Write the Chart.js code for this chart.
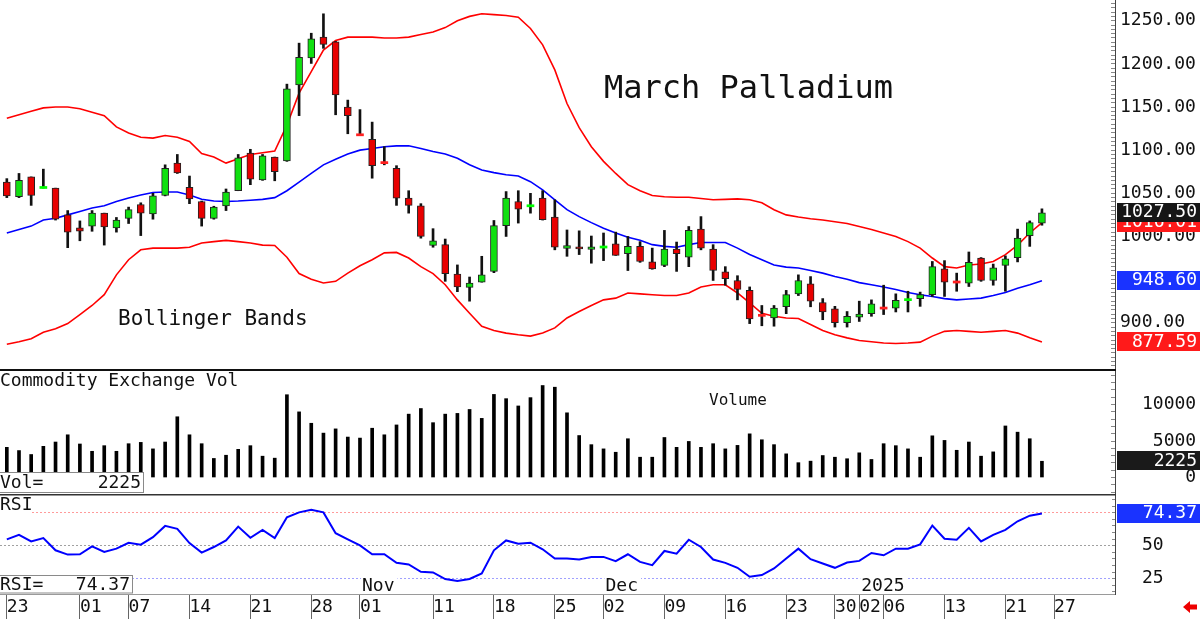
<!DOCTYPE html>
<html>
<head>
<meta charset="utf-8">
<title>March Palladium</title>
<script src="https://cdn.jsdelivr.net/npm/chart.js@4.4.1/dist/chart.umd.min.js"></script>
<style>
  html, body { margin: 0; padding: 0; background: #fff; }
  #wrap { position: relative; width: 1200px; height: 619px; overflow: hidden; }
  .pane { position: absolute; left: 0; width: 1200px; }
  canvas { display: block; }
</style>
</head>
<body>
<div id="wrap">
  <div class="pane" style="top:0;height:369px"><canvas id="price" width="1200" height="369"></canvas></div>
  <div class="pane" style="top:369px;height:125px"><canvas id="vol" width="1200" height="125"></canvas></div>
  <div class="pane" style="top:494px;height:125px"><canvas id="rsi" width="1200" height="125"></canvas></div>
</div>
<script>
// ---------------------------------------------------------------------------
// Data (one entry per trading day, Sep 23 2024 .. Jan 24 2025)
// ---------------------------------------------------------------------------

const dateTicks  = [0, 6, 10, 15, 20, 25, 29, 35, 40, 45, 49, 54, 59, 64, 68, 70, 72, 77, 82, 86];
const dateLabels = ["23", "01", "07", "14", "21", "28", "01", "11", "18", "25",
                    "02", "09", "16", "23", "30", "02", "06", "13", "21", "27"];
const monthTicks  = [29, 49, 70];
const monthLabels = ["Nov", "Dec", "2025"];

const opens = [1063, 1046, 1069, 1056.5, 1056, 1025, 1010, 1012, 1027, 1010,
  1021, 1037, 1026, 1047.5, 1085, 1057, 1040.5, 1021, 1035.5, 1053,
  1096.5, 1065.5, 1092, 1087.5, 1175.5, 1207, 1231, 1225.5, 1150, 1118,
  1112.5, 1085.8, 1079, 1044.5, 1035.5, 989.5, 990.5, 956.5, 941, 947,
  959.5, 1012.5, 1040.5, 1035.3, 1044.5, 1022.5, 986, 988, 985, 987.5,
  991.5, 980, 988.5, 970.5, 966.5, 985.5, 976, 1008.5, 985.5, 959,
  949, 937.5, 908.8, 905.5, 918.5, 933.5, 945, 923.5, 916, 900,
  906.5, 910.5, 917.2, 917, 926.5, 928, 932.5, 962.5, 947.4, 946,
  975, 949, 966.5, 975.5, 1001, 1015.5];
const highs = [1067, 1073, 1069, 1078, 1056, 1030, 1018, 1030, 1027, 1022,
  1034, 1039, 1050, 1083, 1095, 1070, 1041, 1035, 1055, 1095,
  1101, 1095, 1092, 1176.5, 1224, 1235.5, 1258, 1226, 1158, 1147,
  1132.5, 1104, 1082, 1053, 1038, 1009, 997, 967, 953, 977,
  1018.5, 1052, 1053, 1050, 1053, 1042.5, 1007.5, 1006.5, 1000.5, 1004,
  1005, 1000, 994, 986.5, 1007, 993.5, 1011.5, 1023, 990.5, 965,
  954.5, 941.5, 920, 920, 937.5, 955.5, 953.5, 928, 919, 913,
  925, 926.5, 943.5, 933.5, 936.5, 935.5, 971, 972, 957.5, 982,
  975.5, 968, 977.5, 1008.5, 1018, 1032];
const lows = [1045, 1045, 1036, 1056, 1019, 987, 995, 1006, 990, 1005,
  1015, 1001, 1020, 1047, 1073, 1038, 1012, 1020, 1030, 1053,
  1060, 1065, 1064.5, 1087, 1140, 1200.5, 1218, 1141, 1119, 1117.5,
  1067.5, 1083, 1036, 1027, 998, 987.5, 948, 936, 925, 947,
  958, 1000, 1015.5, 1027, 1019, 984.5, 977, 979, 969, 972,
  978, 960.5, 970, 962, 965, 959.5, 965, 984.5, 949, 943.5,
  926.5, 899, 896.5, 896, 910.5, 931.5, 918.5, 903.5, 895, 895,
  901.5, 907.5, 909.5, 912.5, 912.5, 919, 930.5, 930.5, 936.5, 942,
  948, 943.5, 936.5, 970.5, 988.5, 1013];
const closes = [1047, 1065, 1047.5, 1057, 1020, 1005, 1006, 1027, 1011, 1019,
  1031, 1027, 1047, 1079, 1073.5, 1043.5, 1021, 1034, 1051.5, 1091,
  1066.5, 1093.5, 1075, 1171, 1207.5, 1229, 1222.5, 1164, 1140, 1117.6,
  1082, 1085.3, 1044.5, 1036, 1000, 995, 957, 941.5, 946, 955.5,
  1012.5, 1044.5, 1031.5, 1035.8, 1019.5, 987.5, 989.5, 985.5, 988, 988,
  978, 988.5, 971, 962.5, 985.5, 980, 1007, 986.5, 960.5, 951,
  938.5, 904.5, 908.4, 917, 932.5, 949, 925, 912.5, 900, 907.5,
  910, 922, 916.8, 926, 927, 932.5, 965, 947, 947, 970,
  949, 963.5, 974, 998, 1016, 1027.5];

const bbUpper = [1137, 1141, 1145, 1149, 1150, 1150, 1148, 1144, 1140, 1127,
  1120, 1115, 1114, 1117, 1115, 1110, 1096, 1092, 1085, 1090,
  1095, 1097, 1099, 1129, 1166, 1191, 1216, 1227, 1231, 1231,
  1231, 1230, 1230, 1231, 1234, 1237, 1242, 1250, 1255, 1258,
  1257, 1256, 1254, 1241, 1222, 1193, 1154, 1126, 1104, 1087,
  1073, 1060, 1053, 1047.5, 1046, 1045.5, 1045.5, 1044, 1042.5, 1043,
  1043.5, 1042.5, 1039, 1031, 1025, 1022.5, 1020.5, 1019, 1017, 1015,
  1011.5, 1008, 1004, 1000, 994, 986.5, 975, 965, 963.5, 967,
  968, 971, 979, 990, 1004, 1016.01];
const bbMid = [1004, 1008, 1012, 1019, 1021, 1025, 1029, 1033, 1035.5, 1040.5,
  1044.5, 1048, 1051, 1051.5, 1051.5, 1048, 1043, 1041, 1040.5, 1041,
  1042, 1043, 1045, 1053, 1063, 1073, 1083, 1089.5, 1095.5, 1100,
  1102, 1104, 1105, 1105, 1102, 1098.5, 1095.5, 1090.5, 1083, 1077,
  1074, 1071.5, 1070, 1063.5, 1054, 1042.5, 1031, 1023, 1016, 1009.5,
  1004, 999, 995.5, 990.5, 988.5, 987.5, 990.5, 993, 993, 993,
  986.5, 979, 973, 967, 964.5, 963.5, 960.5, 957.5, 953.5, 950.5,
  946.5, 944, 941.5, 938.5, 935, 932.5, 930.5, 928, 926.5, 927.5,
  928.5, 931.5, 935, 940, 944, 948.6];
const bbLower = [875, 878, 881.5, 889, 893, 899, 909.5, 920, 932.5, 955.5,
  973, 984.5, 986.5, 986.5, 986.5, 987.5, 992.5, 994, 995.5, 994,
  992.5, 990, 989.5, 976, 957, 950.5, 946, 948, 957.5, 966,
  973, 981, 981.5, 975, 965, 957, 944, 926.5, 911, 896,
  891, 888, 886, 884.5, 888, 894, 905.5, 913, 920, 926.5,
  928.5, 934.5, 933.5, 932.5, 931.5, 931.5, 934.5, 941.5, 944, 944,
  934.5, 923, 911, 907.5, 905.5, 905, 898, 891, 886, 882.5,
  879.5, 878, 876.5, 876, 876.5, 877.5, 884.5, 890, 891, 890,
  889, 890, 891, 888, 882.5, 877.59];

const volume = [4130, 3690, 3150, 4270, 4860, 5850, 4590, 3590, 4360, 3590,
  4630, 4810, 3920, 4860, 8320, 5850, 4630, 2610, 3050, 3860,
  4360, 2920, 2650, 11340, 8990, 7430, 6080, 6660, 5540, 5400,
  6750, 5850, 7200, 8680, 9450, 7510, 8680, 8780, 9320, 8100,
  11380, 10800, 9800, 10940, 12600, 12370, 8860, 5750, 4500, 3920,
  3460, 5310, 2780, 2780, 5480, 4130, 4940, 4130, 4630, 3920,
  4400, 5980, 5170, 4500, 3240, 2030, 2240, 3010, 2780, 2570,
  3380, 2470, 4630, 4360, 3920, 2780, 5710, 5080, 3730, 4860,
  2920, 3510, 7060, 6210, 5310, 2225];

const rsi = [54.75, 58.25, 53.25, 55.75, 46.5, 43.25, 43.5, 49.5, 45.25, 47.75,
  52.25, 50.75, 56.5, 65, 62.75, 52, 44.75, 49, 54, 64.5,
  56, 62, 55.75, 71.5, 75.25, 77.25, 75.25, 59.5, 54.75, 50.25,
  43.5, 43.5, 37, 35.75, 30.25, 29.75, 24.75, 23.25, 24.75, 29,
  46.5, 54, 51.5, 52.25, 47.25, 40.25, 40.25, 39.5, 41.5, 41.5,
  38.25, 43.5, 37.75, 35.25, 46, 44, 54.5, 49, 39.5, 37,
  33.25, 26.5, 27.75, 32.75, 40.25, 47.75, 39.75, 36.5, 33.25, 37.25,
  38.5, 44.5, 42.75, 47.75, 47.75, 51, 65.25, 55.25, 54.5, 63.5,
  53.25, 58.25, 62, 68.5, 72.75, 74.37];

const priceTicks = [900, 950, 1000, 1050, 1100, 1150, 1200, 1250];
const volTicks   = [0, 5000, 10000];
const rsiTicks   = [25, 50, 75];

// ---------------------------------------------------------------------------
// Layout / style
// ---------------------------------------------------------------------------

const FONT = "'DejaVu Sans Mono', monospace";
const AXIS_W = 85;
const X_MIN = -0.56, X_MAX = 91;
const GREEN = "#10e010", RED = "#e80000", BLUE = "#0000ff";

Chart.defaults.font.family = FONT;

const last = (a) => a[a.length - 1];
const pts = (a) => a.map((v, i) => ({ x: i, y: v }));

function tickRange(lo, hi, step) {
  const out = [];
  for (let v = lo; v <= hi + 1e-9; v += step) out.push(Math.round(v * 100) / 100);
  return out;
}

function drawText(ctx, s, x, y, size, color = "#111", align = "left", baseline = "middle") {
  ctx.save();
  ctx.font = `${size}px ${FONT}`;
  ctx.fillStyle = color;
  ctx.textAlign = align;
  ctx.textBaseline = baseline;
  ctx.fillText(s, x, y);
  ctx.restore();
}

function valueBox(chart, value, label, bg) {
  const ctx = chart.ctx;
  const y = chart.scales.y.getPixelForValue(value);
  const x0 = chart.chartArea.right + 2;
  ctx.save();
  ctx.fillStyle = bg;
  ctx.fillRect(x0, Math.round(y - 10), chart.width - x0, 19);
  ctx.restore();
  drawText(ctx, label, chart.width - 3, y, 18, "#fff", "right");
}

function infoBox(ctx, x0, y0, w, h, left, right) {
  ctx.save();
  ctx.fillStyle = "#fff";
  ctx.fillRect(x0, y0, w, h);
  ctx.strokeStyle = "#8a8a8a";
  ctx.lineWidth = 1;
  ctx.strokeRect(x0 + 0.5, y0 + 0.5, w - 1, h - 1);
  ctx.restore();
  drawText(ctx, left, x0 + 1, y0 + h / 2 + 1, 18);
  drawText(ctx, right, x0 + w - 3, y0 + h / 2 + 1, 18, "#111", "right");
}

function xAxisHidden() {
  return { type: "linear", min: X_MIN, max: X_MAX, display: false, offset: false, grid: { offset: false } };
}

function rightAxis(min, max, marks, labeled, fmt, pad) {
  return {
    position: "right", min, max,
    afterBuildTicks: (s) => { s.ticks = marks.map((v) => ({ value: v })); },
    afterFit: (s) => { s.width = AXIS_W; s.paddingTop = 0; s.paddingBottom = 0; },
    border: { display: true, color: "#444", width: 1 },
    grid: { drawOnChartArea: false, drawTicks: true, tickLength: -4, tickColor: "#888", tickWidth: 1 },
    ticks: {
      autoSkip: false, padding: pad, color: "#111", font: { family: FONT, size: 18 },
      callback: (v) => (labeled.includes(v) ? fmt(v) : ""),
    },
  };
}

const baseOptions = () => ({
  responsive: false, maintainAspectRatio: false, animation: false, devicePixelRatio: 1, events: [],
  layout: { padding: 0 },
  plugins: { legend: { display: false }, tooltip: { enabled: false } },
});

// ---------------------------------------------------------------------------
// Price panel: candles + Bollinger bands
// ---------------------------------------------------------------------------

const isUp = closes.map((c, i) => c >= opens[i]);
const isDoji = closes.map((c, i) => Math.abs(c - opens[i]) < 1);
const wicks = lows.map((l, i) => ({ x: i, y: [l, highs[i]] }));
const bodies = closes.map((c, i) => {
  if (isDoji[i]) { const m = (c + opens[i]) / 2; return { x: i, y: [m - 1.2, m + 1.2] }; }
  return { x: i, y: [opens[i], c] };
});
const bodyColors = closes.map((_, i) => isDoji[i] ? (isUp[i] ? "#00ff00" : "#ff2020") : (isUp[i] ? GREEN : RED));
const bodyBorders = closes.map((_, i) => (isDoji[i] ? 0 : 1));

const bandLine = (data, color) => ({
  type: "line", data: pts(data), borderColor: color, borderWidth: 1.6,
  pointRadius: 0, tension: 0, order: 5,
});

const priceOpts = baseOptions();
priceOpts.scales = {
  x: xAxisHidden(),
  y: rightAxis(846.4, 1274, tickRange(850, 1270, 5), priceTicks, (v) => v.toFixed(2), 9),
};

new Chart(document.getElementById("price"), {
  type: "bar",
  data: {
    datasets: [
      bandLine(bbUpper, "#ff0000"),
      bandLine(bbMid, BLUE),
      bandLine(bbLower, "#ff0000"),
      { data: wicks, backgroundColor: "#111", borderWidth: 0, barThickness: 2, grouped: false, order: 3 },
      { data: bodies, backgroundColor: bodyColors, borderColor: "#222", borderWidth: bodyBorders,
        borderSkipped: false, barThickness: 7, grouped: false, order: 1 },
    ],
  },
  options: priceOpts,
  plugins: [{
    id: "priceLabels",
    afterDraw(chart) {
      const ctx = chart.ctx;
      drawText(ctx, "March Palladium", 604, 98, 32, "#111", "left", "alphabetic");
      drawText(ctx, "Bollinger Bands", 118, 325, 21, "#111", "left", "alphabetic");
      valueBox(chart, last(bbUpper), last(bbUpper).toFixed(2), "#ff1a1a");
      valueBox(chart, last(bbMid), last(bbMid).toFixed(2), "#1a33ff");
      valueBox(chart, last(bbLower), last(bbLower).toFixed(2), "#ff1a1a");
      valueBox(chart, last(closes), last(closes).toFixed(2), "#161616");
    },
  }],
});

// ---------------------------------------------------------------------------
// Volume panel
// ---------------------------------------------------------------------------

const volOpts = baseOptions();
volOpts.scales = {
  x: xAxisHidden(),
  y: rightAxis(-2260, 14863, tickRange(-2000, 14000, 1000), volTicks, (v) => String(v).padStart(5, " "), 31),
};

new Chart(document.getElementById("vol"), {
  type: "bar",
  data: {
    datasets: [{ data: pts(volume), backgroundColor: "#000", borderWidth: 0, barThickness: 3, grouped: false }],
  },
  options: volOpts,
  plugins: [{
    id: "volLabels",
    afterDraw(chart) {
      const ctx = chart.ctx;
      ctx.save();
      ctx.fillStyle = "#111";
      ctx.fillRect(0, 0, chart.chartArea.right + 1, 2);
      ctx.restore();
      drawText(ctx, "Commodity Exchange Vol", 0, 12, 18);
      drawText(ctx, "Volume", 709, 31.5, 16);
      infoBox(ctx, -1, 103, 145, 21, "Vol=", String(last(volume)));
      valueBox(chart, last(volume), String(last(volume)), "#1a1a1a");
    },
  }],
});

// ---------------------------------------------------------------------------
// RSI panel + date axis
// ---------------------------------------------------------------------------

function levelColor(v) {
  if (v === 75) return "#ff9a9a";
  if (v === 50) return "#a0a0a0";
  if (v === 25) return "#a0a0ff";
  return "rgba(0,0,0,0)";
}

const rsiOpts = baseOptions();
const rsiAxis = rightAxis(13.4, 89.17, tickRange(15, 85, 5), rsiTicks, (v) => String(v), 30);
rsiAxis.grid = {
  drawOnChartArea: true, drawTicks: true, tickLength: -3, tickColor: "#888", tickWidth: 1, lineWidth: 1,
  color: (c) => levelColor(c.tick ? c.tick.value : null),
};
rsiAxis.border = { display: true, color: "#444", width: 1, dash: [2, 2] };
rsiOpts.scales = {
  x: {
    type: "linear", min: X_MIN, max: X_MAX, offset: false,
    afterBuildTicks: (s) => { s.ticks = dateTicks.map((v) => ({ value: v })); },
    afterFit: (s) => { s.height = 25; s.paddingLeft = 0; s.paddingRight = 0; },
    border: { display: true, color: "#9a9a9a", width: 1 },
    grid: { offset: false, drawOnChartArea: false, drawTicks: true, tickLength: 25, tickColor: "#666", color: "#666" },
    ticks: {
      autoSkip: false, maxRotation: 0, minRotation: 0, align: "start", padding: -22,
      color: "#111", font: { family: FONT, size: 18 },
      callback: (v) => { const k = dateTicks.indexOf(v); return k >= 0 ? dateLabels[k] : ""; },
    },
  },
  y: rsiAxis,
};

new Chart(document.getElementById("rsi"), {
  type: "line",
  data: {
    datasets: [{ data: pts(rsi), borderColor: BLUE, borderWidth: 2, pointRadius: 0, tension: 0 }],
  },
  options: rsiOpts,
  plugins: [{
    id: "rsiLabels",
    afterDraw(chart) {
      const ctx = chart.ctx;
      const xs = chart.scales.x;
      ctx.save();
      ctx.fillStyle = "#333";
      ctx.fillRect(0, 0, chart.chartArea.right + 1, 1.5);
      ctx.fillStyle = "#fff";
      ctx.fillRect(0, 2, 31, 18);
      ctx.restore();
      drawText(ctx, "RSI", 0, 11, 18);

      ctx.save();
      ctx.font = `18px ${FONT}`;
      monthTicks.forEach((t, k) => {
        const x = xs.getPixelForValue(t) + 2;
        const w = ctx.measureText(monthLabels[k]).width;
        ctx.fillStyle = "#fff";
        ctx.fillRect(x - 1, 82, w + 4, 17.5);
      });
      ctx.restore();
      monthTicks.forEach((t, k) => drawText(ctx, monthLabels[k], xs.getPixelForValue(t) + 2, 92, 18));

      infoBox(ctx, -1, 81, 134, 18.5, "RSI=", last(rsi).toFixed(2));
      valueBox(chart, last(rsi), last(rsi).toFixed(2), "#1a33ff");

      // small red arrow in the corner
      ctx.save();
      ctx.fillStyle = "#ee0000";
      ctx.beginPath();
      ctx.moveTo(1183, 113);
      ctx.lineTo(1190, 107);
      ctx.lineTo(1190, 110.5);
      ctx.lineTo(1197, 110.5);
      ctx.lineTo(1197, 115.5);
      ctx.lineTo(1190, 115.5);
      ctx.lineTo(1190, 119);
      ctx.closePath();
      ctx.fill();
      ctx.restore();
    },
  }],
});
</script>
</body>
</html>
